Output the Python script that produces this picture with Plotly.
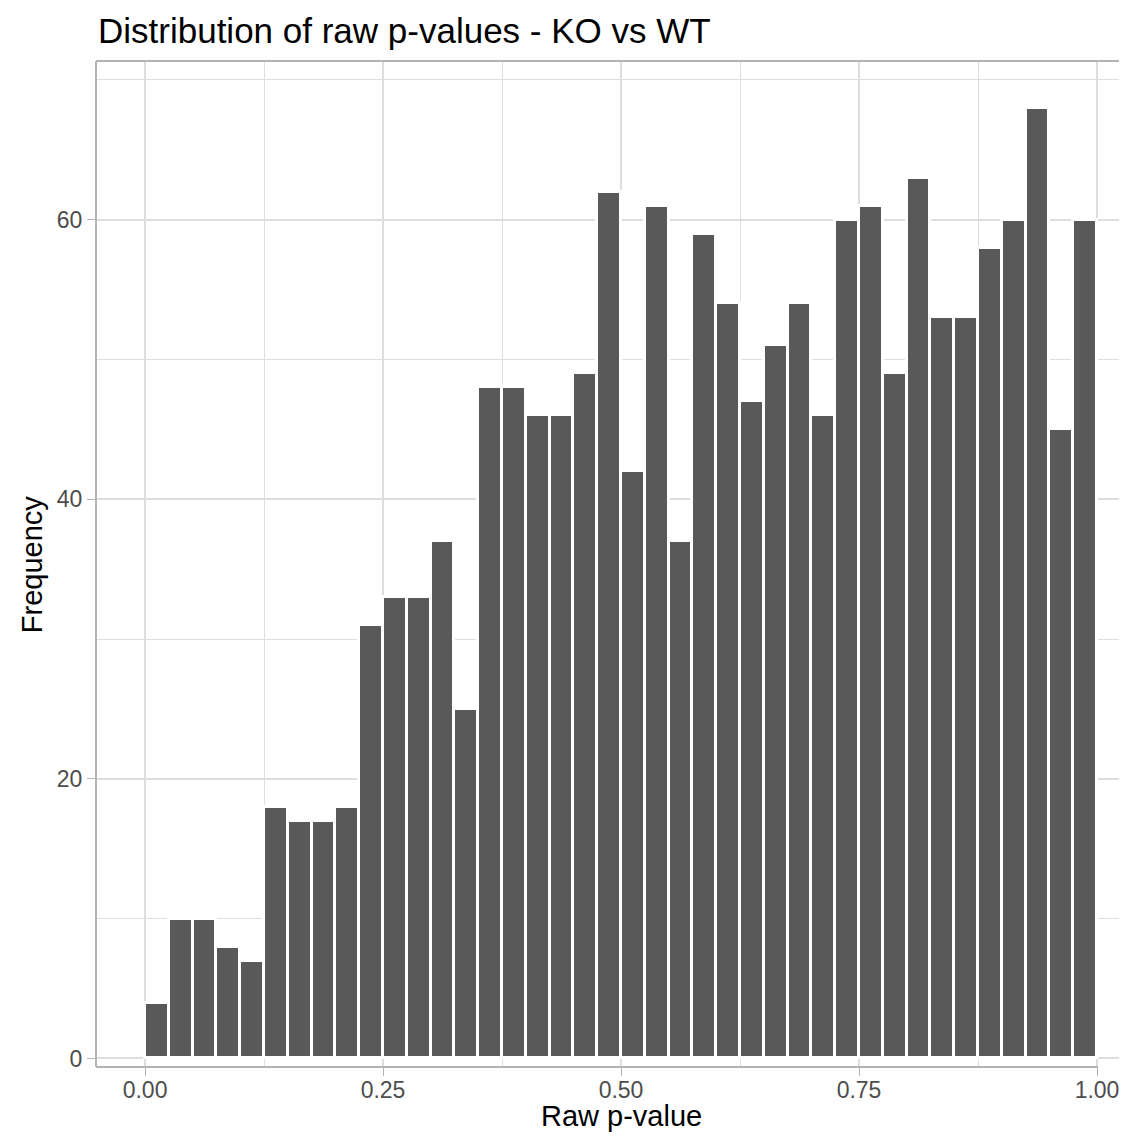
import plotly.graph_objects as go

# ---- data ----
bin_width = 0.025
counts = [4, 10, 10, 8, 7, 18, 17, 17, 18, 31,
          33, 33, 37, 25, 48, 48, 46, 46, 49, 62,
          42, 61, 37, 59, 54, 47, 51, 54, 46, 60,
          61, 49, 63, 53, 53, 58, 60, 68, 45, 60]
bin_centers = [bin_width * (i + 0.5) for i in range(len(counts))]

x_ticks = [0.0, 0.25, 0.5, 0.75, 1.0]
x_tick_labels = ["0.00", "0.25", "0.50", "0.75", "1.00"]
y_ticks = [0, 20, 40, 60]
y_tick_labels = ["0", "20", "40", "60"]

title_text = "Distribution of raw p-values - KO vs WT"
x_title = "Raw p-value"
y_title = "Frequency"

# ---- styling ----
FONT = "Liberation Sans, Arial, Helvetica, sans-serif"
BAR_FILL = "#595959"
GRID = "#DEDEDE"
BORDER = "#B3B3B3"
TICK_TXT = "#4D4D4D"

X_RANGE = [-0.0515, 1.0231]
Y_RANGE = [-0.61, 71.34]

fig = go.Figure()
fig.add_trace(go.Bar(
    x=bin_centers, y=counts, width=bin_width,
    marker=dict(color=BAR_FILL, line=dict(color="white", width=3)),
    showlegend=False, hoverinfo="x+y",
))

# figure sized to fit inside the page's default 8px body margin
fig.update_layout(
    width=1111, height=1124, autosize=False,
    margin=dict(l=88, r=0, t=53, b=65, autoexpand=False),
    paper_bgcolor="white", plot_bgcolor="white",
    font=dict(family=FONT),
    bargap=0,
)

fig.update_xaxes(
    range=X_RANGE, tickvals=x_ticks, ticktext=x_tick_labels,
    automargin=False,
    showgrid=True, gridcolor=GRID, gridwidth=1.5,
    minor=dict(tickvals=[0.125, 0.375, 0.625, 0.875], showgrid=True,
               gridcolor=GRID, gridwidth=0.8),
    zeroline=False, showline=False,
    ticks="outside", ticklen=8, tickwidth=1.3, tickcolor=BORDER,
    tickfont=dict(size=23, color=TICK_TXT, family=FONT),
    ticklabelstandoff=-6, ticklabeloverflow="allow",
)
fig.update_yaxes(
    range=Y_RANGE, tickvals=y_ticks, ticktext=y_tick_labels,
    automargin=False,
    showgrid=True, gridcolor=GRID, gridwidth=1.5,
    minor=dict(tickvals=[10, 30, 50, 70], showgrid=True,
               gridcolor=GRID, gridwidth=0.8),
    zeroline=False, showline=False,
    ticks="outside", ticklen=8, tickwidth=1.3, tickcolor=BORDER,
    tickfont=dict(size=23, color=TICK_TXT, family=FONT),
    ticklabelstandoff=0, ticklabeloverflow="allow",
)

# panel border (left, top, bottom)
fig.add_shape(type="line", xref="paper", yref="paper", x0=0, x1=0, y0=0, y1=1,
              line=dict(color=BORDER, width=2), layer="above")
fig.add_shape(type="line", xref="paper", yref="paper", x0=0, x1=1, y0=1, y1=1,
              line=dict(color=BORDER, width=2), layer="above")
fig.add_shape(type="line", xref="x", yref="paper", x0=X_RANGE[0], x1=1.001, y0=0, y1=0,
              line=dict(color=BORDER, width=2), layer="above")

fig.add_annotation(text=title_text, xref="paper", yref="paper", x=0, y=1.0308,
                   xanchor="left", yanchor="middle", showarrow=False,
                   font=dict(size=35, color="black", family=FONT))
fig.add_annotation(text=x_title, xref="x", yref="paper", x=0.5, y=-0.0487,
                   xanchor="center", yanchor="middle", showarrow=False, borderpad=0,
                   font=dict(size=29, color="black", family=FONT))
fig.add_annotation(text=y_title, xref="paper", yref="paper", x=-0.0624, y=0.5,
                   xanchor="center", yanchor="middle", textangle=-90, showarrow=False,
                   font=dict(size=29, color="black", family=FONT))

fig.write_html("out.html")
